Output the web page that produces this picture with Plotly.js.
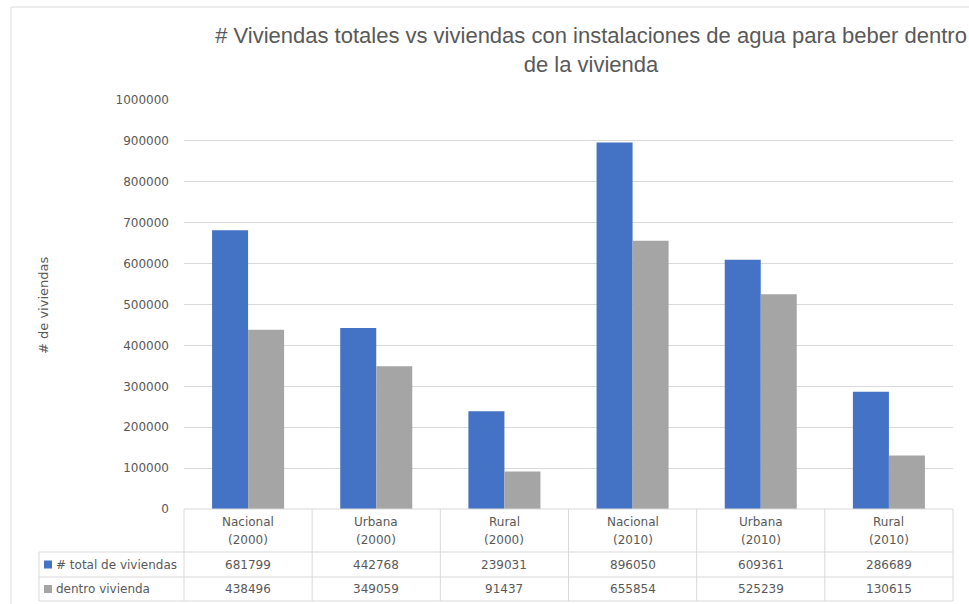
<!DOCTYPE html>
<html>
<head>
<meta charset="utf-8">
<script src="https://cdn.plot.ly/plotly-3.0.1.min.js"></script>
<style>html,body{margin:0;padding:0;background:#fff;}#chart{width:969px;height:604px;}</style>
</head>
<body>
<div id="chart"></div>
<script>
const areas = ['Nacional', 'Urbana', 'Rural', 'Nacional', 'Urbana', 'Rural'];
const years = ['2000', '2000', '2000', '2010', '2010', '2010'];
const categories = areas.map((a, i) => a + ' (' + years[i] + ')');
const seriesNames = ['# total de viviendas', 'dentro vivienda'];
const totalViviendas = [681799, 442768, 239031, 896050, 609361, 286689];
const dentroVivienda = [438496, 349059, 91437, 655854, 525239, 130615];
const seriesColors = ['#4472C4', '#A5A5A5'];
const yTicks = [0, 100000, 200000, 300000, 400000, 500000, 600000, 700000, 800000, 900000, 1000000];

const W = 969, H = 604;
const L = 184, R = 953, T = 100, B = 509;
const pw = R - L, ph = B - T;
const px = x => (x - L) / pw;
const py = y => (B - y) / ph;
const txt = '#595959';
const grid = '#D9D9D9';
const FONT = 'DejaVu Sans, sans-serif';

const traces = [
  {type: 'bar', name: seriesNames[0], x: categories, y: totalViviendas, marker: {color: seriesColors[0]}, hoverinfo: 'y'},
  {type: 'bar', name: seriesNames[1], x: categories, y: dentroVivienda, marker: {color: seriesColors[1]}, hoverinfo: 'y'}
];

const shapes = [];
const annotations = [];
const line = (x0, y0, x1, y1) => shapes.push({type: 'line', xref: 'paper', yref: 'paper',
  x0: px(x0), y0: py(y0), x1: px(x1), y1: py(y1), line: {color: grid, width: 1}, layer: 'above'});

// outer chart border
shapes.push({type: 'rect', xref: 'paper', yref: 'paper', x0: px(11), y0: py(7), x1: px(980), y1: py(620),
  line: {color: grid, width: 1}, layer: 'below'});

// data table grid
const n = categories.length;
const colX = i => L + i * pw / n;
line(L, 509, R, 509);
line(39, 552, R, 552);
line(39, 577, R, 577);
line(39, 601, R, 601);
line(39, 552, 39, 601);
for (let i = 0; i <= n; i++) line(colX(i), 509, colX(i), 601);

// header labels
categories.forEach((c, i) => {
  annotations.push({xref: 'x', yref: 'paper', x: c, y: py(521.5), text: areas[i], showarrow: false,
    xanchor: 'center', yanchor: 'middle', font: {family: FONT, size: 12, color: txt}});
  annotations.push({xref: 'x', yref: 'paper', x: c, y: py(539.5), text: '(' + years[i] + ')', showarrow: false,
    xanchor: 'center', yanchor: 'middle', font: {family: FONT, size: 12, color: txt}});
});

// data rows
const rows = [totalViviendas, dentroVivienda];
const rowMid = [564.5, 589];
rows.forEach((vals, r) => {
  vals.forEach((v, i) => {
    annotations.push({xref: 'x', yref: 'paper', x: categories[i], y: py(rowMid[r]), text: String(v), showarrow: false,
      xanchor: 'center', yanchor: 'middle', font: {family: FONT, size: 12, color: txt}});
  });
  shapes.push({type: 'rect', xref: 'paper', yref: 'paper', x0: px(44), x1: px(52), y0: py(rowMid[r] - 4), y1: py(rowMid[r] + 4),
    line: {width: 0}, fillcolor: seriesColors[r], layer: 'above'});
  annotations.push({xref: 'paper', yref: 'paper', x: px(54), y: py(rowMid[r]), text: seriesNames[r], showarrow: false,
    xanchor: 'left', yanchor: 'middle', font: {family: FONT, size: 12, color: txt}});
});

// y axis title
annotations.push({xref: 'paper', yref: 'paper', x: px(43), y: py(306), text: '# de viviendas', textangle: -90,
  showarrow: false, xanchor: 'center', yanchor: 'middle', font: {family: FONT, size: 13, color: txt}});

const layout = {
  width: W, height: H,
  margin: {l: L, r: W - R, t: T, b: H - B, pad: 0},
  paper_bgcolor: '#fff', plot_bgcolor: '#fff',
  barmode: 'group', bargap: 0.438, bargroupgap: 0,
  showlegend: false,
  title: {
    text: '# Viviendas totales vs viviendas con instalaciones de agua para beber dentro<br>de la vivienda',
    font: {family: 'Liberation Sans, Arial, sans-serif', size: 22, color: txt},
    x: 591 / W, xanchor: 'center', xref: 'container',
    y: 1 - 43 / H, yanchor: 'top', yref: 'container'
  },
  xaxis: {type: 'category', showticklabels: false, showgrid: false, zeroline: false, showline: false, ticks: '',
    range: [-0.5, n - 0.5], fixedrange: true},
  yaxis: {range: [0, 1000000], tickvals: yTicks, ticktext: yTicks.map(String), showgrid: true, gridcolor: grid, gridwidth: 1,
    zeroline: false, showline: false, ticks: '', ticklabelstandoff: 14,
    tickfont: {family: FONT, size: 12, color: txt}, fixedrange: true},
  shapes: shapes,
  annotations: annotations,
  font: {family: FONT, color: txt}
};

Plotly.newPlot('chart', traces, layout, {displayModeBar: false, staticPlot: true});
</script>
</body>
</html>
